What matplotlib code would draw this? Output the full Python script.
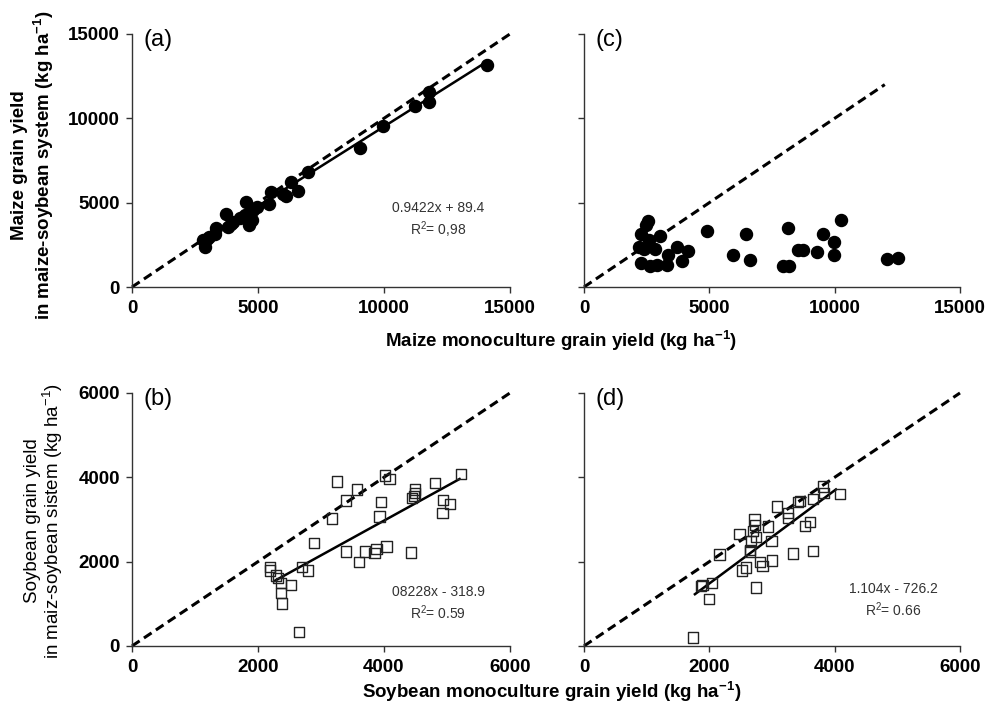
import numpy as np
import matplotlib.pyplot as plt

plt.rcParams['font.family'] = ['Liberation Sans', 'DejaVu Sans']
plt.rcParams['mathtext.fontset'] = 'custom'
plt.rcParams['mathtext.rm'] = 'Liberation Sans'
plt.rcParams['mathtext.bf'] = 'Liberation Sans:bold'

# (a) maize, monoculture vs maize-soybean system
maize_mono_a = [14100, 11800, 11800, 11240, 9970, 9050, 6970, 6310, 6600, 6000,
                6110, 5500, 5440, 4950, 4810, 4510, 4750, 4660, 4480, 4290,
                4020, 3820, 3730, 3930, 3320, 3290, 3070, 2830, 2900, 2990]
maize_rot_a = [13170, 11580, 10990, 10730, 9540, 8220, 6810, 6200, 5700, 5500,
               5410, 5640, 4950, 4750, 4590, 5050, 3960, 3660, 4260, 4120,
               3860, 3560, 4320, 3760, 3470, 3170, 2970, 2770, 2380, 2870]

# (c) maize
maize_mono_c = [2540, 2470, 2270, 2590, 3030, 2190, 2390, 2830, 3700, 4160,
                3340, 3300, 2900, 2630, 2270, 3900, 4890, 5960, 6450, 6620,
                7950, 8180, 8150, 8550, 8720, 9310, 9550, 9990, 9970, 10240,
                12070, 12510]
maize_rot_c = [3910, 3670, 3150, 2760, 3020, 2360, 2280, 2240, 2360, 2120,
               1920, 1330, 1330, 1230, 1410, 1570, 3310, 1870, 3150, 1630,
               1230, 1230, 3510, 2220, 2220, 2080, 3120, 2660, 1920, 3950,
               1670, 1690]

# (b) soybean
soy_mono_b = [5220, 4810, 4940, 5050, 4930, 4490, 4490, 4480, 4450, 4430,
              4020, 4090, 3950, 3930, 4040, 3880, 3850, 3700, 3600, 3400,
              3570, 3400, 3250, 3180, 2890, 2790, 2700, 2650, 2520, 2380,
              2360, 2370, 2320, 2290, 2190, 2190]
soy_rot_b = [4080, 3860, 3470, 3360, 3150, 3710, 3630, 3550, 3510, 2220,
             4040, 3960, 3410, 3070, 2360, 2300, 2210, 2240, 1990, 2240,
             3710, 3450, 3900, 3020, 2440, 1790, 1870, 340, 1440, 1010,
             1250, 1490, 1620, 1670, 1880, 1790]

# (d) soybean
soy_mono_d = [1740, 1870, 1890, 2040, 2000, 2160, 2480, 2520, 2590, 2650,
              2670, 2700, 2720, 2730, 2740, 2740, 2810, 2850, 2940, 2990,
              3000, 3080, 3250, 3260, 3330, 3420, 3450, 3530, 3610, 3650,
              3650, 3810, 3830, 4080, 2650]
soy_rot_d = [200, 1430, 1450, 1490, 1110, 2170, 2660, 1790, 1860, 2240,
             2480, 2720, 3000, 2870, 2580, 1390, 1990, 1900, 2830, 2490,
             2030, 3310, 3040, 3160, 2190, 3410, 3430, 2850, 2940, 3480,
             2260, 3780, 3630, 3600, 2280]

# fitted lines: slope, intercept, x range
fit_a = (0.9422, 89.4, 2700, 14100)
fit_b = (0.8228, -318.9, 2270, 5200)
fit_d = (1.104, -726.2, 1770, 4020)


def style(ax, lim, step, label):
    ax.set_xlim(0, lim)
    ax.set_ylim(0, lim)
    ax.set_xticks(np.arange(0, lim + 1, step))
    ax.set_yticks(np.arange(0, lim + 1, step))
    for s in ['top', 'right']:
        ax.spines[s].set_visible(False)
    for s in ['left', 'bottom']:
        ax.spines[s].set_color('#333333')
        ax.spines[s].set_linewidth(1)
    ax.tick_params(direction='out', length=4.3, width=1, color='#333333',
                   labelsize=13.5)
    ax.tick_params(axis='x', pad=5)
    ax.tick_params(axis='y', pad=4.5)
    for t in ax.get_xticklabels() + ax.get_yticklabels():
        t.set_fontweight('bold')
    ax.text(0.03, 0.975, label, transform=ax.transAxes, fontsize=17,
            va='center', ha='left')


def one_to_one(ax, end):
    ax.plot([0, end], [0, end], '--', color='black', lw=2.2,
            dashes=(3, 1.7), clip_on=False)


def fit_line(ax, fit):
    m, b, x0, x1 = fit
    xs = np.array([x0, x1])
    ax.plot(xs, m * xs + b, '-', color='black', lw=1.8)


fig = plt.figure(figsize=(9.91, 7.05), dpi=100)
ax_a = fig.add_axes([0.1332, 0.5929, 0.3814, 0.3589])
ax_c = fig.add_axes([0.5893, 0.5929, 0.3794, 0.3589])
ax_b = fig.add_axes([0.1332, 0.0837, 0.3814, 0.3589])
ax_d = fig.add_axes([0.5893, 0.0837, 0.3794, 0.3589])

style(ax_a, 15000, 5000, '(a)')
style(ax_c, 15000, 5000, '(c)')
style(ax_b, 6000, 2000, '(b)')
style(ax_d, 6000, 2000, '(d)')
ax_c.set_yticklabels([])
ax_d.set_yticklabels([])

one_to_one(ax_a, 15000)
ax_a.scatter(maize_mono_a, maize_rot_a, s=75, color='black', zorder=3)
fit_line(ax_a, fit_a)
ax_a.text(12140, 3950, '0.9422x + 89.4\nR$^2$= 0,98', ha='center',
          va='center', fontsize=10, color='#333333', linespacing=1.3)

one_to_one(ax_c, 12000)
ax_c.scatter(maize_mono_c, maize_rot_c, s=75, color='black', zorder=3)

one_to_one(ax_b, 6000)
ax_b.scatter(soy_mono_b, soy_rot_b, s=55, marker='s', facecolors='none',
             edgecolors='#222222', linewidths=1, zorder=3)
fit_line(ax_b, fit_b)
ax_b.text(4857, 1000, '08228x - 318.9\nR$^2$= 0.59', ha='center',
          va='center', fontsize=10, color='#333333', linespacing=1.3)

one_to_one(ax_d, 6000)
ax_d.scatter(soy_mono_d, soy_rot_d, s=55, marker='s', facecolors='none',
             edgecolors='#222222', linewidths=1, zorder=3)
fit_line(ax_d, fit_d)
ax_d.text(4936, 1080, '1.104x - 726.2\nR$^2$= 0.66', ha='center',
          va='center', fontsize=10, color='#333333', linespacing=1.3)

fig.text(0.566, 0.535, 'Maize monoculture grain yield (kg ha$^{\\mathbf{-1}}$)',
         ha='center', va='top', fontsize=13.5, fontweight='bold')
fig.text(0.557, 0.002, 'Soybean monoculture grain yield (kg ha$^{\\mathbf{-1}}$)',
         ha='center', va='bottom', fontsize=13.5, fontweight='bold')
fig.text(0.034, 0.766, 'Maize grain yield\nin maize-soybean system (kg ha$^{\\mathbf{-1}}$)',
         ha='center', va='center', rotation=90, fontsize=13.5,
         fontweight='bold', linespacing=1.15)
fig.text(0.045, 0.261, 'Soybean grain yield\nin maiz-soybean sistem (kg ha$^{-1}$)',
         ha='center', va='center', rotation=90, fontsize=13.5,
         linespacing=1.0)

plt.savefig('out.png', dpi=100)
